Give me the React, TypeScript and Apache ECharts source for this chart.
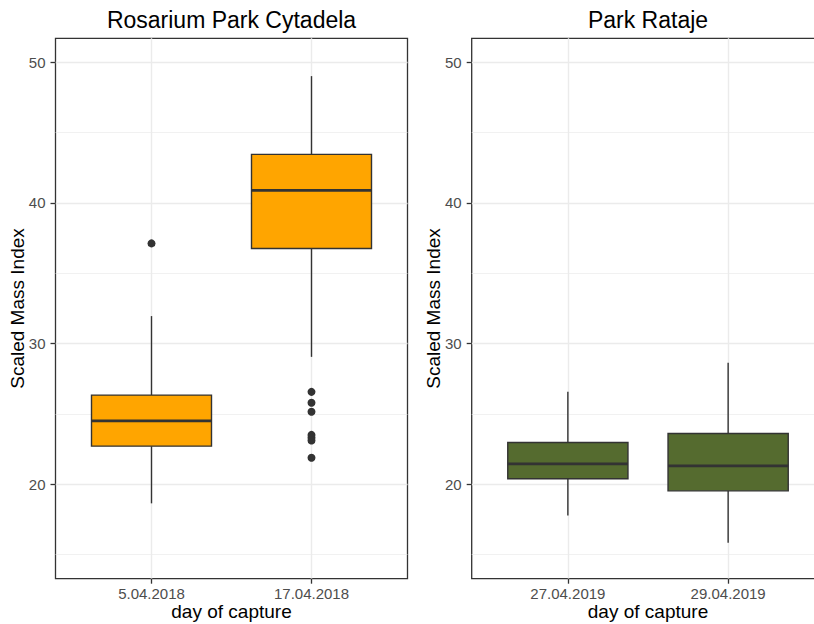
import React, { useEffect, useRef } from "react";
import * as echarts from "echarts";

// ---- data ----
const leftCategories = ["5.04.2018", "17.04.2018"];
const rightCategories = ["27.04.2019", "29.04.2019"];
// [lower whisker, Q1, median, Q3, upper whisker]
const leftBoxes = [
  [18.63, 22.7, 24.5, 26.33, 31.95],
  [29.05, 36.76, 40.89, 43.45, 49.02],
];
const rightBoxes = [
  [17.77, 20.38, 21.44, 22.96, 26.56],
  [15.83, 19.52, 21.3, 23.6, 28.63],
];
const leftOutliers = [[37.12], [26.56, 25.78, 25.14, 23.5, 23.3, 23.1, 21.87]];
const rightOutliers: number[][] = [[], []];
const yMajorTicks = [20, 30, 40, 50];
const yMinorTicks = [15, 25, 35, 45];
const yRange = [13.27, 51.71];
const xPositions = [1, 2];
const xRange = [0.4, 2.6];
const titles = ["Rosarium Park Cytadela", "Park Rataje"];
const xTitle = "day of capture";
const yTitle = "Scaled Mass Index";
const fills = ["#FFA500", "#556B2F"];

const FONT = '"Liberation Sans", Arial, Helvetica, sans-serif';
const INK = "#333333";
const GRID = "#EBEBEB";

const panels = [
  { left: 55.5, width: 352, cats: leftCategories, boxes: leftBoxes, outliers: leftOutliers },
  { left: 471.7, width: 352.6, cats: rightCategories, boxes: rightBoxes, outliers: rightOutliers },
];
const TOP = 38.3;
const HEIGHT = 540.4;

export default function App() {
  const ref = useRef<HTMLDivElement>(null);
  useEffect(() => {
    document.body.style.margin = "0";
    if (!ref.current) return;
    const chart = echarts.init(ref.current, null, { renderer: "svg" });

    const grid: any[] = [];
    const xAxis: any[] = [];
    const yAxis: any[] = [];
    const series: any[] = [];
    const graphic: any[] = [];

    panels.forEach((p, i) => {
      grid.push({
        left: p.left,
        top: TOP,
        width: p.width,
        height: HEIGHT,
        show: true,
        backgroundColor: "#FFFFFF",
        borderColor: INK,
        borderWidth: 1.3,
        containLabel: false,
        outerBoundsMode: "none",
      });
      xAxis.push({
        type: "value",
        gridIndex: i,
        min: xRange[0],
        max: xRange[1],
        axisLine: { show: false, onZero: false },
        axisTick: { show: true, customValues: xPositions, length: 5, lineStyle: { color: INK, width: 1.3 } },
        axisLabel: {
          show: true,
          customValues: xPositions,
          formatter: (v: number) => p.cats[Math.round(v) - 1] ?? "",
          margin: 7,
          color: "#4D4D4D",
          fontSize: 15,
          lineHeight: 15,
          fontFamily: FONT,
        },
        splitLine: { show: true, lineStyle: { color: GRID, width: 1.4 } },
        name: xTitle,
        nameLocation: "middle",
        nameGap: 23.5,
        nameMoveOverlap: false,
        nameTextStyle: { color: "#000000", fontSize: 19, lineHeight: 19, fontFamily: FONT },
      });
      yAxis.push({
        type: "value",
        gridIndex: i,
        position: "left",
        min: yRange[0],
        max: yRange[1],
        axisLine: { show: false, onZero: false },
        axisTick: { show: true, customValues: yMajorTicks, length: 5, lineStyle: { color: INK, width: 1.3 } },
        axisLabel: {
          show: true,
          customValues: yMajorTicks,
          margin: 10,
          color: "#4D4D4D",
          fontSize: 15,
          lineHeight: 15,
          fontFamily: FONT,
        },
        splitLine: { show: true, lineStyle: { color: GRID, width: 1.4 } },
        name: yTitle,
        nameLocation: "middle",
        nameGap: 28.5,
        nameRotate: 90,
        nameMoveOverlap: false,
        nameTextStyle: { color: "#000000", fontSize: 19, lineHeight: 19, fontFamily: FONT },
      });
      yAxis.push({
        type: "value",
        gridIndex: i,
        position: "left",
        min: yRange[0],
        max: yRange[1],
        axisLine: { show: false, onZero: false },
        axisTick: { show: false, customValues: yMinorTicks },
        axisLabel: { show: false, customValues: yMinorTicks },
        splitLine: { show: true, lineStyle: { color: GRID, width: 0.7 } },
      });

      const fill = fills[i];
      series.push({
        type: "custom",
        xAxisIndex: i,
        yAxisIndex: 2 * i,
        data: p.boxes.map((b, k) => [xPositions[k], ...b]),
        encode: { x: 0, y: [1, 2, 3, 4, 5] },
        renderItem: (params: any, api: any) => {
          const x = api.value(0);
          const low = api.coord([x, api.value(1)]);
          const q1 = api.coord([x, api.value(2)]);
          const med = api.coord([x, api.value(3)]);
          const q3 = api.coord([x, api.value(4)]);
          const high = api.coord([x, api.value(5)]);
          const halfW = api.size([0.75, 0])[0] / 2;
          return {
            type: "group",
            children: [
              { type: "line", shape: { x1: high[0], y1: high[1], x2: q3[0], y2: q3[1] }, style: { stroke: INK, lineWidth: 1.4 } },
              { type: "line", shape: { x1: q1[0], y1: q1[1], x2: low[0], y2: low[1] }, style: { stroke: INK, lineWidth: 1.4 } },
              {
                type: "rect",
                shape: { x: q3[0] - halfW, y: q3[1], width: 2 * halfW, height: q1[1] - q3[1] },
                style: { fill, stroke: INK, lineWidth: 1.4 },
              },
              {
                type: "line",
                shape: { x1: med[0] - halfW, y1: med[1], x2: med[0] + halfW, y2: med[1] },
                style: { stroke: INK, lineWidth: 2.8 },
              },
            ],
          };
        },
      });
      const pts: number[][] = [];
      p.outliers.forEach((vals, k) => vals.forEach((v) => pts.push([xPositions[k], v])));
      series.push({
        type: "scatter",
        xAxisIndex: i,
        yAxisIndex: 2 * i,
        data: pts,
        symbol: "circle",
        symbolSize: 8,
        itemStyle: { color: INK, opacity: 1 },
        z: 3,
      });

      graphic.push({
        type: "text",
        x: p.left + p.width / 2,
        y: 20.3,
        style: {
          text: titles[i],
          font: `23px ${FONT}`,
          fontSize: 23,
          fontFamily: FONT,
          fill: "#000000",
          align: "center",
          verticalAlign: "middle",
          textAlign: "center",
          textVerticalAlign: "middle",
        },
      });
    });

    chart.setOption({
      animation: false,
      backgroundColor: "#FFFFFF",
      textStyle: { fontFamily: FONT },
      grid,
      xAxis,
      yAxis,
      series,
      graphic,
    });
    return () => chart.dispose();
  }, []);
  return <div ref={ref} style={{ width: 814, height: 624 }} />;
}
